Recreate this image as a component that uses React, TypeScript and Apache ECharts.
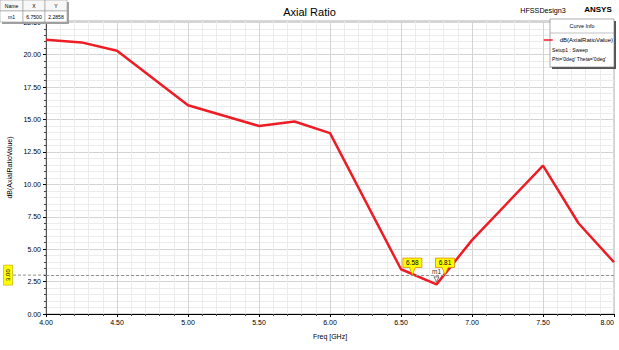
import React, { useEffect, useRef } from "react";
import * as echarts from "echarts";

const freqGHz = [4.0, 4.25, 4.5, 5.0, 5.5, 5.75, 6.0, 6.5, 6.75, 7.0, 7.5, 7.75, 8.0];
const axialRatioDb = [21.15, 20.95, 20.3, 16.1, 14.5, 14.85, 13.95, 3.45, 2.2858, 5.7, 11.45, 7.0, 3.99];
const thresholdDb = 3.0;
const crossings = [6.58, 6.81];
const crossingLabels = ["6.58", "6.81"];
const markerName = "m1";
const markerX = 6.75;
const markerY = 2.2858;
const tableHeader = ["Name", "X", "Y"];
const tableRow = ["m1", "6.7500", "2.2858"];
const curveInfo = ["Curve Info", "dB(AxialRatioValue)", "Setup1 : Sweep", "Phi='0deg' Theta='0deg'"];

const FONT = "'Liberation Sans Narrow', 'Arial Narrow', 'Liberation Sans', sans-serif";

export default function App() {
  const ref = useRef<HTMLDivElement>(null);
  useEffect(() => {
    document.body.style.margin = "0";
    const chart = echarts.init(ref.current!, null, { renderer: "svg" });
    const seriesData = freqGHz.map((f, i) => [f, axialRatioDb[i]]);
    chart.setOption({
      animation: false,
      backgroundColor: "#ffffff",
      textStyle: { fontFamily: FONT },
      title: {
        text: "Axial Ratio",
        left: "center",
        top: 1,
        textStyle: { fontSize: 11, fontWeight: "normal", color: "#000", fontFamily: "'Liberation Sans', sans-serif" },
      },
      grid: { left: 46, right: 5, top: 21, bottom: 36, show: true, borderColor: "#b0b0b0", borderWidth: 1, outerBoundsMode: "none", containLabel: false },
      xAxis: {
        type: "value",
        min: 4,
        max: 8,
        interval: 0.5,
        name: "Freq [GHz]",
        nameLocation: "middle",
        nameGap: 19,
        nameTextStyle: { fontSize: 7, color: "#000", fontFamily: FONT },
        axisLine: { show: true, onZero: false, lineStyle: { color: "#000", width: 1 } },
        axisTick: { show: true, length: 3, lineStyle: { color: "#000" } },
        minorTick: { show: true, splitNumber: 5, length: 2, lineStyle: { color: "#444" } },
        axisLabel: { fontSize: 7, color: "#000", margin: 5, alignMaxLabel: "right", formatter: (v: number) => v.toFixed(2) },
        splitLine: { show: true, lineStyle: { color: "#d4d4d4", width: 1 } },
        minorSplitLine: { show: true, lineStyle: { color: "#ececec", width: 1 } },
      },
      yAxis: {
        type: "value",
        min: 0,
        max: 22.6,
        interval: 2.5,
        name: "dB(AxialRatioValue)",
        nameLocation: "middle",
        nameGap: 21,
        nameTextStyle: { fontSize: 7, color: "#000", fontFamily: FONT },
        axisLine: { show: true, lineStyle: { color: "#555", width: 1 } },
        axisTick: { show: true, length: 3, lineStyle: { color: "#000" } },
        minorTick: { show: true, splitNumber: 5, length: 2, lineStyle: { color: "#444" } },
        axisLabel: { fontSize: 7, color: "#000", margin: 5, showMaxLabel: false, formatter: (v: number) => v.toFixed(2) },
        splitLine: { show: true, lineStyle: { color: "#d4d4d4", width: 1 } },
        minorSplitLine: { show: true, lineStyle: { color: "#ececec", width: 1 } },
      },
      legend: {
        show: true,
        z: 20,
        data: [{ name: curveInfo[1], icon: "rect" }],
        right: 6,
        top: 37,
        padding: 0,
        itemWidth: 9,
        itemHeight: 1.5,
        itemGap: 2,
        textStyle: { fontSize: 6, color: "#000", fontFamily: FONT, padding: [0, 0, 0, 2] },
      },
      series: [
        {
          name: curveInfo[1],
          type: "line",
          data: seriesData,
          showSymbol: false,
          lineStyle: { color: "#ee1c24", width: 2.5 },
          itemStyle: { color: "#ee1c24" },
          markLine: {
            silent: true,
            symbol: "none",
            label: { show: false },
            lineStyle: { color: "#909090", type: [3, 2], width: 1 },
            data: [{ yAxis: thresholdDb }],
          },
          markPoint: {
            silent: true,
            data: [
              ...crossings.map((c, i) => ({
                coord: [c, thresholdDb],
                symbol: "path://M0,0 L20,0 L20,10 L13,10 L10,18 L7,10 L0,10 Z",
                symbolSize: [19, 17],
                symbolOffset: [0, "-50%"],
                itemStyle: { color: "#ffff00", borderColor: "#e08a00", borderWidth: 0.8 },
                label: {
                  show: true,
                  formatter: crossingLabels[i],
                  position: "inside",
                  offset: [0, -4],
                  fontSize: 6.5,
                  color: "#000",
                  fontFamily: FONT,
                },
              })),
              {
                coord: [markerX, markerY],
                symbol: "path://M0,0 L10,0 L5,9 Z",
                symbolSize: [5, 5],
                symbolOffset: [0, -5],
                itemStyle: { color: "#ffffff", borderColor: "#555", borderWidth: 0.8 },
                label: {
                  show: true,
                  formatter: markerName,
                  position: "top",
                  distance: 1,
                  fontSize: 6.5,
                  color: "#333",
                  fontFamily: FONT,
                },
              },
            ],
          },
        },
      ],
    });

    const yPix = chart.convertToPixel({ yAxisIndex: 0 }, thresholdDb) as number;
    const leftPix = chart.convertToPixel({ xAxisIndex: 0 }, 4) as number;

    const cellW = [23, 22, 22];
    const totalW = cellW[0] + cellW[1] + cellW[2];
    const tableCells: any[] = [
      { type: "rect", z: 10, shape: { x: 2, y: 2, width: totalW, height: 22 }, style: { fill: "#a0a0a0" } },
    ];
    let cx = 0;
    for (let i = 0; i < 3; i++) {
      tableCells.push(
        { type: "rect", z: 11, shape: { x: cx, y: 0, width: cellW[i], height: 11 }, style: { fill: "#f7f7f7", stroke: "#9a9a9a", lineWidth: 0.6 } },
        { type: "text", z: 12, x: cx + cellW[i] / 2, y: 5.5, scaleX: 0.85, style: { text: tableHeader[i], fontSize: 6, fill: "#000", align: "center", verticalAlign: "middle", fontFamily: FONT } },
        { type: "rect", z: 11, shape: { x: cx, y: 11, width: cellW[i], height: 11 }, style: { fill: "#ffffff", stroke: "#9a9a9a", lineWidth: 0.6 } },
        { type: "text", z: 12, x: cx + cellW[i] / 2, y: 16.5, scaleX: 0.85, style: { text: tableRow[i], fontSize: 6, fill: "#000", align: "center", verticalAlign: "middle", fontFamily: FONT } }
      );
      cx += cellW[i];
    }

    chart.setOption({
      graphic: [
        { type: "group", x: 0, y: 0, children: tableCells },
        {
          type: "line",
          shape: { x1: 13, y1: yPix, x2: leftPix, y2: yPix },
          style: { stroke: "#909090", lineDash: [3, 2], lineWidth: 1 },
        },
        {
          type: "group",
          x: 8,
          y: yPix,
          rotation: Math.PI / 2,
          children: [
            { type: "rect", z: 11, shape: { x: -10, y: -4.5, width: 20, height: 9 }, style: { fill: "#ffff00", stroke: "#c8a000", lineWidth: 0.6 } },
            { type: "text", z: 12, x: 0, y: 0, style: { text: "3.00", fontSize: 6, fill: "#000", align: "center", verticalAlign: "middle", fontFamily: FONT } },
          ],
        },
        { type: "text", x: 543, y: 10, scaleX: 0.9, style: { text: "HFSSDesign3", fontSize: 8, fill: "#000", align: "center", verticalAlign: "middle", fontFamily: FONT } },
        { type: "text", x: 598, y: 9, style: { text: "ANSYS", fontSize: 8, fontWeight: "bold", fill: "#000", align: "center", verticalAlign: "middle", fontFamily: FONT } },
        { type: "rect", z: 9, shape: { x: 552, y: 21, width: 64, height: 48 }, style: { fill: "#555" } },
        { type: "rect", z: 10, shape: { x: 550, y: 19, width: 64, height: 48 }, style: { fill: "#ffffff", stroke: "#777", lineWidth: 0.6 } },
        { type: "line", z: 11, shape: { x1: 550, y1: 33, x2: 614, y2: 33 }, style: { stroke: "#999", lineWidth: 0.6 } },
        { type: "text", z: 11, x: 582, y: 26, scaleX: 0.9, style: { text: curveInfo[0], fontSize: 6, fill: "#000", align: "center", verticalAlign: "middle", fontFamily: FONT } },
        { type: "text", z: 11, x: 552, y: 50, scaleX: 0.85, style: { text: curveInfo[2], fontSize: 6, fill: "#000", align: "left", verticalAlign: "middle", fontFamily: FONT } },
        { type: "text", z: 11, x: 552, y: 59, scaleX: 0.85, style: { text: curveInfo[3], fontSize: 6, fill: "#000", align: "left", verticalAlign: "middle", fontFamily: FONT } },
      ],
    });
    return () => chart.dispose();
  }, []);
  return <div ref={ref} style={{ width: 619, height: 350, position: "absolute", left: 0, top: 0 }} />;
}
